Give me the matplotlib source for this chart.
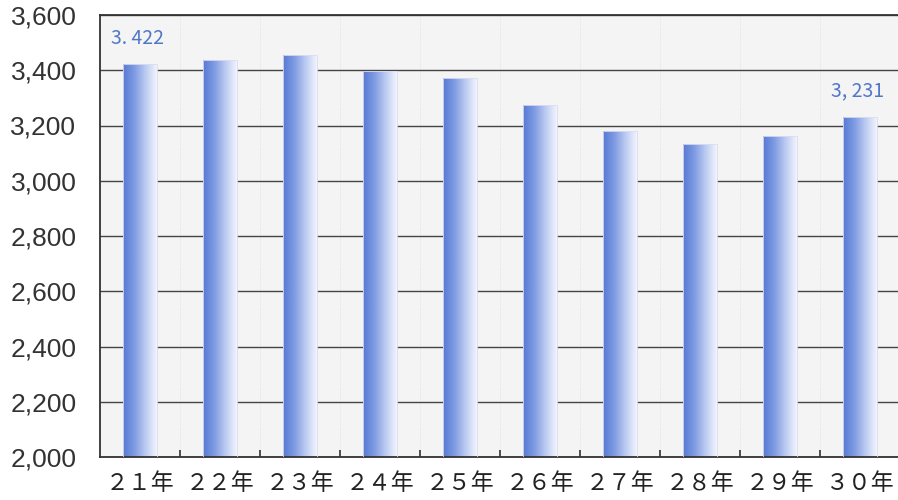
import numpy as np
import matplotlib
matplotlib.use("Agg")
import matplotlib.pyplot as plt
from matplotlib.colors import LinearSegmentedColormap

categories = ["２１年", "２２年", "２３年", "２４年", "２５年", "２６年", "２７年", "２８年", "２９年", "３０年"]
values = [3422, 3437, 3455, 3398, 3372, 3274, 3180, 3133, 3162, 3231]
label_idx = [0, 9]
label_texts = ["3. 422", "3, 231"]
yticks = [2000, 2200, 2400, 2600, 2800, 3000, 3200, 3400, 3600]
ytick_labels = ["2,000", "2,200", "2,400", "2,600", "2,800", "3,000", "3,200", "3,400", "3,600"]

fig = plt.figure(figsize=(8.98, 5.0), dpi=100)
fig.patch.set_facecolor("white")
ax = fig.add_axes([100/898, 1-457/500, 800/898, 442/500])
ax.set_facecolor("#f4f4f4")

x = np.arange(len(values))
ax.set_xlim(-0.5, len(values)-0.5)
ax.set_ylim(2000, 3600)

ax.grid(axis="y", color="#444444", linewidth=1.0, zorder=1)
for b in np.arange(0.5, len(values)-0.5, 1.0):
    ax.axvline(b, color="#ddd8ea", linewidth=0.6, linestyle=(0, (1, 2)), zorder=1)

bars = ax.bar(x, values, width=0.425, bottom=0, color="none", edgecolor="#dcdcf0", linewidth=0.6, zorder=3)

cmap = LinearSegmentedColormap.from_list("bar", ["#5679d4", "#7e9be2", "#bccbf2", "#f2f5fd"])
grad = np.linspace(0, 1, 256).reshape(1, -1)
for rect in bars:
    x0 = rect.get_x(); w = rect.get_width(); h = rect.get_height()
    im = ax.imshow(grad, cmap=cmap, aspect="auto", extent=(x0, x0+w, 2000, h),
                   zorder=2, interpolation="bicubic")
    im.set_clip_path(rect)

for i, t in zip(label_idx, label_texts):
    ax.text(x[i] - 0.03, values[i] + 55, t, ha="center", va="bottom", color="#5077c8",
            fontsize=14, family=["Noto Sans CJK JP", "DejaVu Sans"], zorder=5)

ax.set_yticks(yticks)
ax.set_yticklabels(ytick_labels, fontsize=19, color="#333333", family="Liberation Sans")
ax.set_xticks(x)
ax.set_xticklabels(categories, fontsize=16.5, color="#222222", family=["Noto Sans CJK JP", "DejaVu Sans"])
ax.tick_params(axis="x", length=0, pad=11)
ax.tick_params(axis="y", length=0, pad=17)
ax.set_xticks(np.arange(0.5, len(values)-0.5, 1.0), minor=True)
ax.tick_params(axis="x", which="minor", direction="in", length=5, color="#333333", width=1.2)

for s in ["left", "bottom", "top"]:
    ax.spines[s].set_color("#333333")
    ax.spines[s].set_linewidth(1.3)
ax.spines["right"].set_visible(False)

fig.savefig("out.png", dpi=100)
